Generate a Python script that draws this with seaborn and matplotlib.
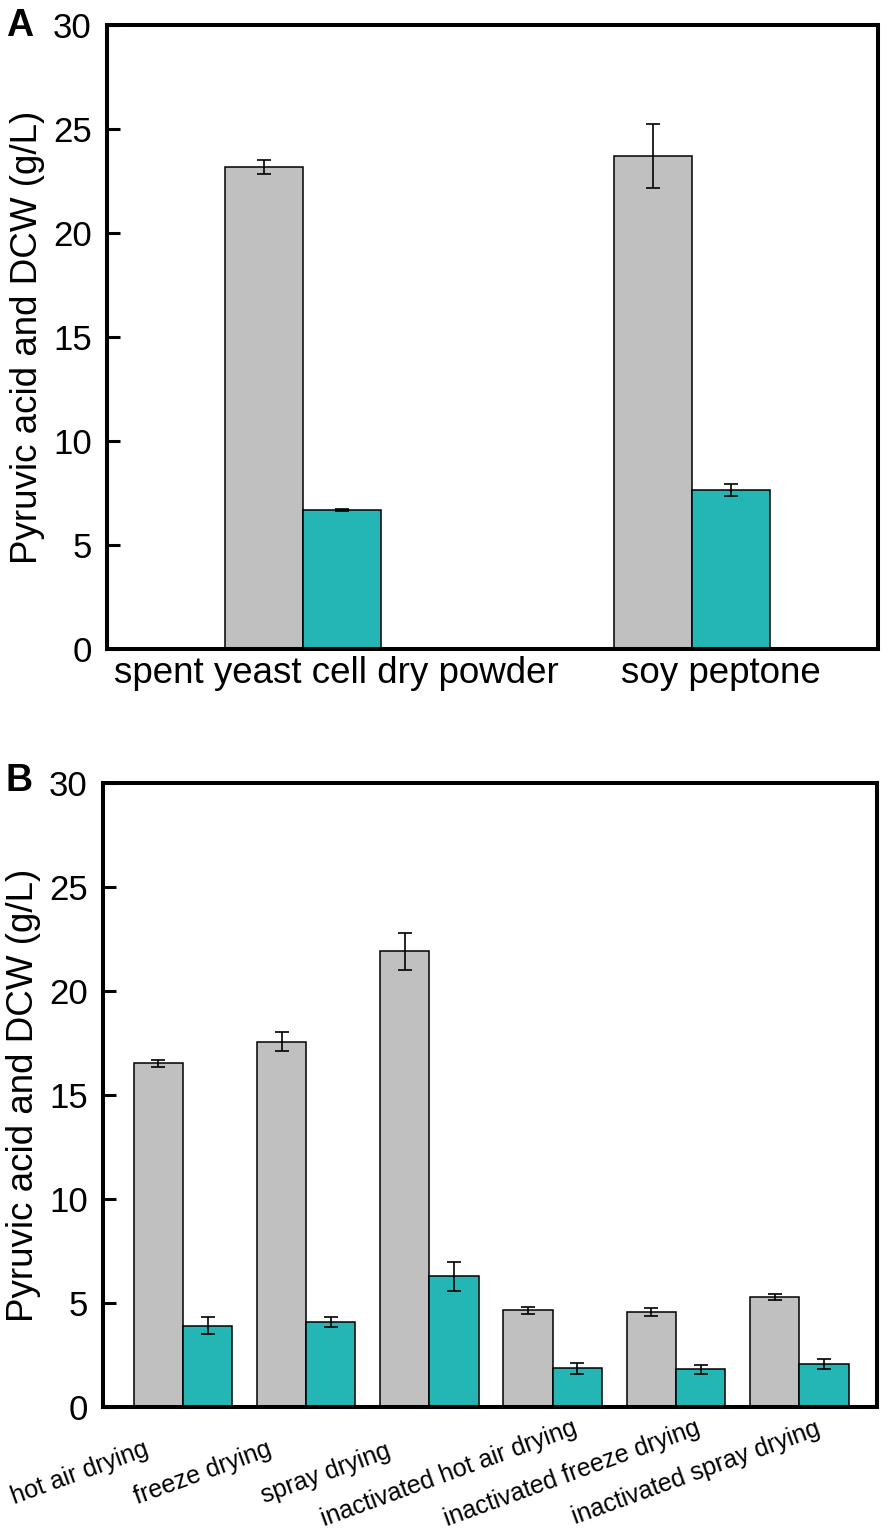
import matplotlib
matplotlib.use("Agg")
import matplotlib.pyplot as plt
import matplotlib.transforms as mtransforms
import seaborn as sns
import pandas as pd
import numpy as np

# ---------------- data ----------------
series = ["Pyruvic acid", "DCW"]

a_categories = ["spent yeast cell dry powder", "soy peptone"]
a_pyruvic = [23.16, 23.69]
a_pyruvic_err = [0.34, 1.54]
a_dcw = [6.68, 7.64]
a_dcw_err = [0.05, 0.27]

b_categories = ["hot air drying", "freeze drying", "spray drying",
                "inactivated hot air drying", "inactivated freeze drying",
                "inactivated spray drying"]
b_pyruvic = [16.52, 17.56, 21.90, 4.65, 4.57, 5.30]
b_pyruvic_err = [0.15, 0.45, 0.89, 0.18, 0.18, 0.14]
b_dcw = [3.91, 4.09, 6.28, 1.86, 1.81, 2.07]
b_dcw_err = [0.42, 0.25, 0.70, 0.27, 0.22, 0.25]

y_ticks = [0, 5, 10, 15, 20, 25, 30]

colors = ["#C0C0C0", "#23B6B4"]

sns.set_theme(style="white")
plt.rcParams["font.family"] = ["Liberation Sans", "DejaVu Sans"]
plt.rcParams["text.color"] = "black"
plt.rcParams["axes.labelcolor"] = "black"
plt.rcParams["xtick.color"] = "black"
plt.rcParams["ytick.color"] = "black"

fig = plt.figure(figsize=(8.91, 15.31), dpi=100)
axA = fig.add_axes([107/891, 1-649/1531, (878-107)/891, (649-25)/1531])
axB = fig.add_axes([103/891, 1-1407/1531, (877-103)/891, (1407-783)/1531])


def make_df(cats, v1, v2):
    return pd.DataFrame({
        "category": list(cats) * 2,
        "series": [series[0]] * len(cats) + [series[1]] * len(cats),
        "value": list(v1) + list(v2),
    })


def draw(ax, cats, v1, e1, v2, e2, width, xlim):
    df = make_df(cats, v1, v2)
    sns.barplot(data=df, x="category", y="value", hue="series",
                order=cats, hue_order=series, palette=colors,
                width=width, errorbar=None, legend=False,
                edgecolor="black", linewidth=1.1, saturation=1, ax=ax)
    errs = [e1, e2]
    for cont, err in zip(ax.containers, errs):
        xs = [b.get_x() + b.get_width() / 2 for b in cont]
        hs = [b.get_height() for b in cont]
        ax.errorbar(xs, hs, yerr=err, fmt="none", ecolor="black",
                    elinewidth=1.2, capsize=4.8, capthick=1.2, zorder=5)
    ax.set_ylim(0, 30)
    ax.set_xlim(*xlim)
    ax.set_yticks(y_ticks)
    ax.set_yticklabels([str(t) for t in y_ticks], fontsize=25, color="black")
    ax.set_ylabel("Pyruvic acid and DCW (g/L)", fontsize=26.5, labelpad=6,
                  color="black")
    ax.set_xlabel("")
    for s in ax.spines.values():
        s.set_linewidth(2.9)
        s.set_color("black")
        s.set_visible(True)
    ax.tick_params(axis="y", direction="in", length=9.4, width=2.2,
                   pad=11, left=True, colors="black")
    ax.tick_params(axis="x", direction="in", length=7, width=2.2,
                   bottom=True, colors="black")


draw(axA, a_categories, a_pyruvic, a_pyruvic_err, a_dcw, a_dcw_err,
     0.4, (-0.504, 1.478))
axA.set_xticks(range(len(a_categories)))
axA.set_xticklabels(a_categories, fontsize=26.5, color="black")
axA.tick_params(axis="x", pad=5)
# labels sit a little right of their ticks in the reference
for lbl, dx in zip(axA.get_xticklabels(), [33, 29]):
    shift = mtransforms.ScaledTranslation(dx/100, 0, fig.dpi_scale_trans)
    lbl.set_transform(lbl.get_transform() + shift)

draw(axB, b_categories, b_pyruvic, b_pyruvic_err, b_dcw, b_dcw_err,
     0.8, (-0.648, 5.63))
axB.set_xticks(range(len(b_categories)))
axB.set_xticklabels([""] * len(b_categories))
for i, lab in enumerate(b_categories):
    axB.text(i - 0.84, -0.106, lab, transform=axB.get_xaxis_transform(),
             rotation=20, ha="center", va="center", fontsize=18,
             color="black")

fig.text(6/891, 1-8/1531, "A", fontsize=27, fontweight="bold",
         ha="left", va="top", color="black")
fig.text(6/891, 1-763/1531, "B", fontsize=27, fontweight="bold",
         ha="left", va="top", color="black")

fig.savefig("out.png", dpi=100)
